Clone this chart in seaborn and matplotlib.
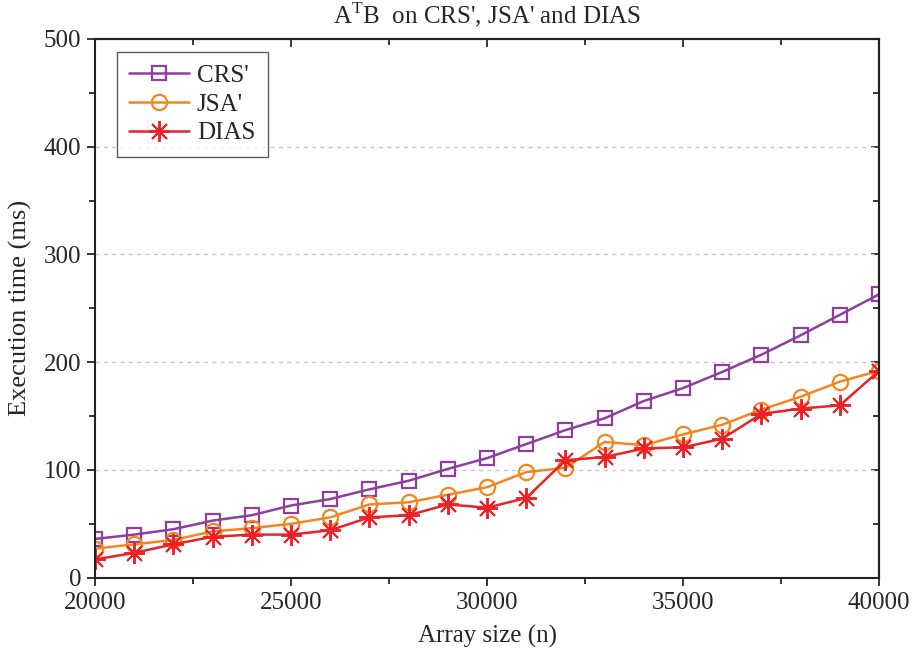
import numpy as np
import pandas as pd
import seaborn as sns
import matplotlib.pyplot as plt
from matplotlib.ticker import MultipleLocator

# array sizes (n)
sizes = list(range(20000, 40001, 1000))

# execution times (ms)
crs_times = [36, 40, 45, 53, 58, 67, 73, 82, 90, 101, 111,
             124, 137, 148, 164, 176, 191, 207, 225, 244, 263]
jsa_times = [27, 31, 35, 43, 46, 50, 56, 68, 70, 77, 84,
             98, 102, 126, 123, 133, 142, 156, 168, 182, 192]
dias_times = [17, 23, 31, 38, 40, 40, 44, 56, 58, 68, 65,
              74, 109, 112, 120, 121, 129, 152, 157, 160, 192]

series_names = ["CRS'", "JSA'", "DIAS"]

df = pd.DataFrame({
    "n": sizes * 3,
    "time": crs_times + jsa_times + dias_times,
    "method": [series_names[0]] * len(sizes) + [series_names[1]] * len(sizes)
              + [series_names[2]] * len(sizes),
})

sns.set_style("ticks")
plt.rcParams["font.family"] = ["Liberation Serif", "DejaVu Serif"]
plt.rcParams["mathtext.fontset"] = "custom"
plt.rcParams["mathtext.rm"] = "Liberation Serif"

colors = {"CRS'": "#8E3F9E", "JSA'": "#F5861F", "DIAS": "#EC2227"}
marks = {"CRS'": "s", "JSA'": "o", "DIAS": (8, 2, 0)}
msize = {"CRS'": 10, "JSA'": 11, "DIAS": 15}

fig = plt.figure(figsize=(9.16, 6.55), dpi=100)
ax = fig.add_axes([0.1037, 0.118, 0.856, 0.8225])

for name in series_names:
    sub = df[df["method"] == name]
    sns.lineplot(data=sub, x="n", y="time", ax=ax, color=colors[name],
                 marker=marks[name], markersize=msize[name],
                 markerfacecolor="none" if name != "DIAS" else colors[name],
                 markeredgecolor=colors[name],
                 markeredgewidth=1.6 if name != "DIAS" else 1.4,
                 linewidth=1.8, label=name)

ax.set_xlim(20000, 40000)
ax.set_ylim(0, 500)
ax.xaxis.set_major_locator(MultipleLocator(5000))
ax.xaxis.set_minor_locator(MultipleLocator(2500))
ax.yaxis.set_major_locator(MultipleLocator(100))
ax.yaxis.set_minor_locator(MultipleLocator(50))
ax.tick_params(which="major", direction="out", length=6, width=1.3, labelsize=18, pad=4)
ax.tick_params(which="minor", direction="out", length=4, width=1.3)

# mirrored inward ticks on top and right
top = ax.secondary_xaxis("top")
top.xaxis.set_major_locator(MultipleLocator(5000))
top.xaxis.set_minor_locator(MultipleLocator(2500))
top.tick_params(which="major", direction="in", length=6, width=1.3, labeltop=False)
top.tick_params(which="minor", direction="in", length=4, width=1.3)
right = ax.secondary_yaxis("right")
right.yaxis.set_major_locator(MultipleLocator(100))
right.yaxis.set_minor_locator(MultipleLocator(50))
right.tick_params(which="major", direction="in", length=6, width=1.3, labelright=False)
right.tick_params(which="minor", direction="in", length=4, width=1.3)

for sp in list(ax.spines.values()) + [top.spines["top"], right.spines["right"]]:
    sp.set_linewidth(1.5)
    sp.set_color("#222222")

ax.yaxis.grid(True, which="major", linestyle=(0, (3, 3)), color="#c8c8c8", linewidth=1)
ax.set_axisbelow(True)

ax.set_xlabel("Array size (n)", fontsize=18, labelpad=8)
ax.set_ylabel("Execution time (ms)", fontsize=19, labelpad=8)
ax.set_title("A$^\\mathrm{T}$B  on CRS', JSA' and DIAS", fontsize=18, pad=11)

leg = ax.legend(loc="upper left", bbox_to_anchor=(0.028, 0.976), borderaxespad=0,
                fontsize=18, frameon=True, fancybox=False, edgecolor="#333333",
                handlelength=2.4, handletextpad=0.3, labelspacing=0.25,
                borderpad=0.5)
leg.get_frame().set_linewidth(1.0)

fig.savefig("out.png", dpi=100)
